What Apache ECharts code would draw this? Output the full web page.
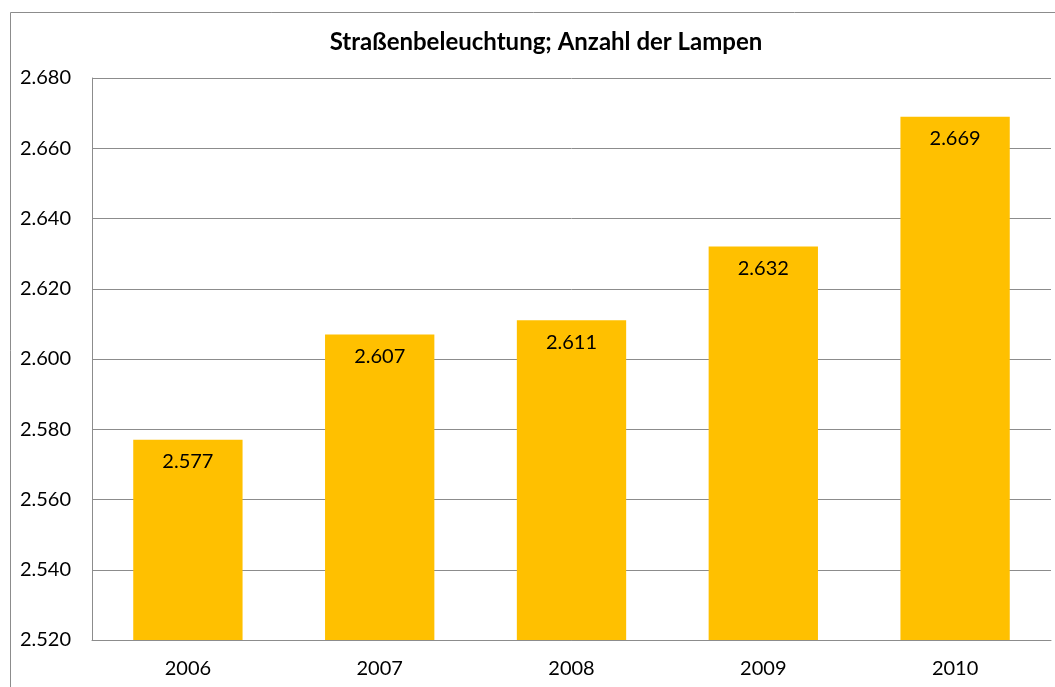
<!DOCTYPE html>
<html><head><meta charset="utf-8">
<script src="https://cdn.jsdelivr.net/npm/echarts@6/dist/echarts.min.js"></script>
<style>html,body{margin:0;padding:0;background:#fff}#c{width:1055px;height:687px}</style>
</head><body><div id="c"></div>
<script>
const categories = ['2006','2007','2008','2009','2010'];
const lampen = [2577, 2607, 2611, 2632, 2669];
const yMin = 2520, yMax = 2680, yStep = 20;
const titleText = 'Straßenbeleuchtung; Anzahl der Lampen';

function de(v){ const s = String(Math.round(v)); return s.replace(/\B(?=(\d{3})+(?!\d))/g,'.'); }
const FONT = 'Lato, "Open Sans", sans-serif';
const chart = echarts.init(document.getElementById('c'));
chart.setOption({
  animation:false,
  backgroundColor:'#fff',
  graphic:[{type:'rect',shape:{x:10.5,y:12.5,width:1100,height:700},style:{fill:'none',stroke:'#8c8c8c',lineWidth:1},silent:true,z:-1}],
  title:{text:titleText,left:541,textAlign:'center',top:25,textStyle:{fontFamily:FONT,fontWeight:'bold',fontSize:24,color:'#000'}},
  grid:{left:92,right:4,top:78,bottom:47,containLabel:false},
  xAxis:{type:'category',data:categories,
    axisLine:{show:true,lineStyle:{color:'#8c8c8c',width:1}},axisTick:{show:false},
    axisLabel:{fontFamily:FONT,fontSize:20,color:'#000',margin:19}},
  yAxis:{type:'value',min:yMin,max:yMax,interval:yStep,
    axisLine:{show:true,lineStyle:{color:'#8c8c8c',width:1}},axisTick:{show:false},
    splitLine:{lineStyle:{color:'#8c8c8c',width:1}},
    axisLabel:{fontFamily:FONT,fontSize:20,color:'#000',margin:21,formatter:v=>de(v)}},
  series:[{type:'bar',data:lampen,barCategoryGap:'43%',itemStyle:{color:'#FFC000'},
    label:{show:true,position:'insideTop',distance:12,fontFamily:FONT,fontSize:20,color:'#000',formatter:p=>de(p.value)}}]
});
</script></body></html>
